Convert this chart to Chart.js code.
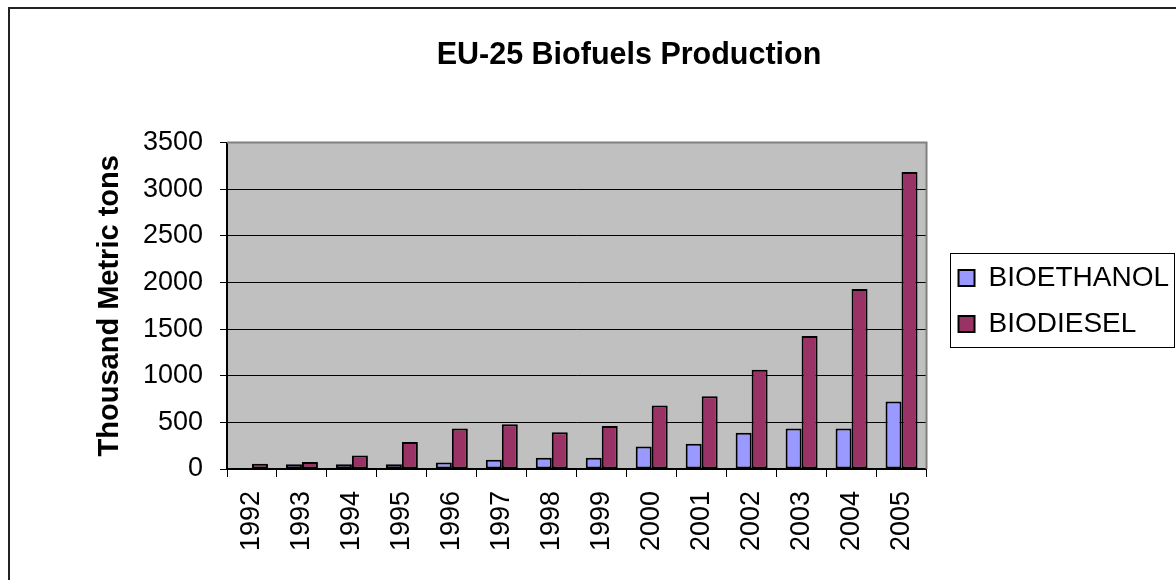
<!DOCTYPE html>
<html>
<head>
<meta charset="utf-8">
<title>EU-25 Biofuels Production</title>
<script src="https://cdn.jsdelivr.net/npm/chart.js@4.4.1/dist/chart.umd.min.js"></script>
<style>
  html, body { margin: 0; padding: 0; background: #fff; }
  canvas { display: block; }
</style>
</head>
<body>
<canvas id="biofuelsChart" width="1176" height="580"></canvas>
<script>
// data (thousand metric tons)
const years = ['1992', '1993', '1994', '1995', '1996', '1997', '1998', '1999', '2000', '2001', '2002', '2003', '2004', '2005'];
const bioethanol = [0, 50, 50, 50, 70, 100, 120, 120, 240, 270, 390, 435, 435, 725];
const biodiesel = [55, 75, 145, 290, 435, 480, 395, 460, 680, 780, 1065, 1425, 1930, 3185];
const yMax = 3500;
const yStep = 500;

Chart.defaults.font.family = "'Liberation Sans', Arial, sans-serif";
Chart.defaults.color = '#000';

// gray plot area, white page, outer frame, legend frame
const excelLook = {
    id: 'excelLook',
    afterLayout(chart) {
        // Excel leaves a wider gap between plot and legend
        const lg = chart.legend;
        if (lg) { lg.left += 14; lg.right += 14; }
    },
    beforeDraw(chart) {
        const { ctx, chartArea: a } = chart;
        ctx.save();
        ctx.fillStyle = '#fff';
        ctx.fillRect(0, 0, chart.width, chart.height);
        ctx.fillStyle = '#C0C0C0';
        ctx.fillRect(a.left, a.top, a.right - a.left, a.bottom - a.top);
        ctx.restore();
    },
    afterDraw(chart) {
        const { ctx, chartArea: a } = chart;
        ctx.save();
        // plot area border (top / right)
        ctx.strokeStyle = '#808080';
        ctx.lineWidth = 2;
        ctx.beginPath();
        ctx.moveTo(a.left, a.top);
        ctx.lineTo(a.right, a.top);
        ctx.lineTo(a.right, a.bottom);
        ctx.stroke();
        // outer chart frame: only the top and left edges are inside the picture
        ctx.strokeStyle = '#222';
        ctx.lineWidth = 2;
        ctx.beginPath();
        ctx.moveTo(9, chart.height);
        ctx.lineTo(9, 8);
        ctx.lineTo(chart.width, 8);
        ctx.stroke();
        // legend frame
        const hb = chart.legend.legendHitBoxes;
        if (hb && hb.length) {
            const first = hb[0], last = hb[hb.length - 1];
            const w = Math.max(...hb.map(h => h.width));
            const x0 = first.left - 9;
            const x1 = Math.min(first.left + w + 5, chart.width - 2);
            const y0 = first.top + first.height / 2 - 25;
            const y1 = last.top + last.height / 2 + 23;
            ctx.strokeStyle = '#000';
            ctx.lineWidth = 1;
            ctx.strokeRect(Math.round(x0) + 0.5, Math.round(y0) + 0.5, Math.round(x1 - x0), Math.round(y1 - y0));
        }
        ctx.restore();
    }
};

const ctx = document.getElementById('biofuelsChart').getContext('2d');
new Chart(ctx, {
    type: 'bar',
    data: {
        labels: years,
        datasets: [{
            label: 'BIOETHANOL',
            data: bioethanol,
            backgroundColor: '#9999FF',
            borderColor: '#000',
            borderWidth: 2,
            borderSkipped: false
        }, {
            label: 'BIODIESEL',
            data: biodiesel,
            backgroundColor: '#993366',
            borderColor: '#000',
            borderWidth: 2,
            borderSkipped: false
        }]
    },
    options: {
        responsive: false,
        animation: false,
        categoryPercentage: 0.64,
        barPercentage: 1,
        layout: { padding: { left: 93, right: 11, top: 20, bottom: 20 } },
        scales: {
            x: {
                offset: true,
                grid: {
                    offset: true,
                    drawOnChartArea: false,
                    drawTicks: true,
                    tickLength: 8,
                    color: '#000'
                },
                border: { color: '#000', width: 2 },
                ticks: {
                    minRotation: 90,
                    maxRotation: 90,
                    padding: 14,
                    font: { size: 27 },
                    color: '#000'
                },
                afterFit(scale) { scale.height = 91; }
            },
            y: {
                min: 0,
                max: yMax,
                ticks: {
                    stepSize: yStep,
                    padding: 17,
                    font: { size: 27 },
                    color: '#000',
                    callback: (v) => String(v)
                },
                grid: { color: '#000', lineWidth: 1, tickLength: 7 },
                border: { color: '#000', width: 2 },
                title: {
                    display: true,
                    text: 'Thousand Metric tons',
                    font: { size: 29, weight: 'bold' },
                    padding: 0,
                    color: '#000'
                },
                afterFit(scale) { scale.width = 134; }
            }
        },
        plugins: {
            title: {
                display: true,
                text: 'EU-25 Biofuels Production',
                font: { size: 30.5, weight: 'bold' },
                color: '#000',
                padding: { top: 17, bottom: 69 }
            },
            legend: {
                position: 'right',
                title: {
                    display: true,
                    text: ' ',
                    font: { size: 10 },
                    padding: 5
                },
                labels: {
                    boxWidth: 16,
                    boxHeight: 16,
                    padding: 18,
                    font: { size: 28 },
                    color: '#000'
                }
            },
            tooltip: { enabled: false }
        }
    },
    plugins: [excelLook]
});
</script>
</body>
</html>
